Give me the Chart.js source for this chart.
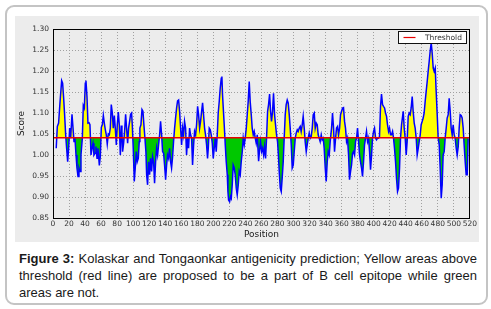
<!DOCTYPE html>
<html>
<head>
<meta charset="utf-8">
<script src="https://cdn.jsdelivr.net/npm/chart.js@4.4.1/dist/chart.umd.min.js"></script>
<style>
  html, body { margin: 0; padding: 0; background: #fff; }
  body { width: 491px; height: 309px; position: relative; overflow: hidden; }
  #frame {
    position: absolute; left: 5px; top: 5px; width: 479px; height: 296px;
    border: 2px solid #c4c4c4; border-radius: 9px;
  }
  #panel { position: absolute; left: 15px; top: 16px; width: 464px; height: 226px; background: #ececec; }
  #caption {
    position: absolute; left: 19px; top: 250px; width: 458px;
    font-family: 'Liberation Sans', Arial, sans-serif; font-size: 13px; line-height: 17px;
    color: #1a1a1a; text-align: justify;
  }
</style>
</head>
<body>
<div id="frame"></div>
<div id="panel"><canvas id="chart-kolaskar" width="464" height="226"></canvas></div>
<div id="caption"><b>Figure 3:</b> Kolaskar and Tongaonkar antigenicity prediction; Yellow areas above threshold (red line) are proposed to be a part of B cell epitope while green areas are not.</div>

<script>
/* ── Données ──────────────────────────────────────────────── */
const threshold = 1.041;
const xTicks = [0, 20, 40, 60, 80, 100, 120, 140, 160, 180, 200, 220, 240, 260,
                280, 300, 320, 340, 360, 380, 400, 420, 440, 460, 480, 500, 520];
const yTicks = [0.85, 0.90, 0.95, 1.00, 1.05, 1.10, 1.15, 1.20, 1.25, 1.30];

/* [position, score] */
const kolaskarScores = [
  [4,1.016],[5.4,1.068],[7,1.076],[8.7,1.124],[10.8,1.177],[12,1.171],[13.3,1.135],[14.5,1.096],
  [15.8,1.048],[17,1.016],[18.3,0.984],[19.5,1.016],[20.8,1.064],[22,1.040],[23.7,1.097],[25,1.064],
  [26.2,1.032],[27.4,1.040],[28.7,1.000],[29.9,0.969],[31.2,0.949],[32.4,0.969],[33.7,0.961],[34.9,1.000],
  [36.6,1.040],[37.8,1.118],[39.1,1.112],[40.3,1.171],[41.1,1.177],[42.4,1.139],[43.6,1.076],[44.9,1.077],
  [46.1,1.072],[47.4,1.000],[48.6,1.016],[49.9,1.028],[51.1,1.000],[52.4,1.004],[53.6,1.020],[54.9,0.992],
  [56.1,1.016],[57.8,0.975],[59,0.996],[60.3,1.066],[61.5,1.072],[62.8,1.094],[64,1.076],[65.3,1.060],
  [66.5,1.048],[67.7,1.026],[69,1.050],[70.2,1.048],[71.5,1.064],[72.7,1.120],[74,1.100],[75.2,1.064],
  [76.5,1.094],[77.7,1.064],[79,1.024],[80.2,1.072],[81.5,1.102],[82.7,1.072],[84,1.000],[85.2,1.070],
  [86,1.056],[86.8,1.008],[88.1,1.028],[89.3,1.056],[90.6,1.097],[91.8,1.064],[93.1,1.028],[94.3,1.064],
  [95.6,1.080],[96.8,1.097],[98,1.100],[98.9,1.072],[100.1,1.016],[101.4,0.937],[102.6,0.969],[103.9,1.008],
  [105.1,0.984],[106.4,0.992],[107.6,1.032],[108.4,1.064],[109.7,1.072],[111,1.108],[112.2,1.104],[113.4,1.072],
  [114.7,1.040],[115.9,1.008],[116.8,0.953],[118,0.929],[119.2,0.984],[120.5,0.953],[121.7,0.992],[123,0.961],
  [124.2,0.996],[125.5,0.984],[126.7,0.933],[128,0.984],[129.2,1.016],[130.5,1.000],[131.7,1.024],[133,1.048],
  [134.2,1.080],[135.5,1.048],[136.7,1.008],[138,1.004],[139.2,0.976],[140.5,0.941],[141.7,0.976],[142.9,1.000],
  [144.2,0.992],[145.4,1.016],[146.7,0.984],[147.9,0.969],[149.2,0.996],[150.4,1.032],[151.7,1.064],[152.9,1.088],
  [154.2,1.112],[155.4,1.129],[156.7,1.131],[157.9,1.104],[159.2,1.064],[160.4,1.024],[161.7,1.064],[162.9,1.048],
  [164.1,1.080],[165.4,1.064],[166.6,1.000],[167.9,1.040],[169.1,1.016],[170.4,1.064],[171.6,1.048],[172.9,1.040],
  [174.1,0.976],[175.4,1.024],[176.6,1.056],[177.9,1.048],[179.1,1.072],[180.4,1.116],[181.6,1.096],[182.9,1.064],
  [184.1,1.080],[185.4,1.104],[186.6,1.124],[187.8,1.096],[189.1,1.064],[190.3,1.048],[191.6,1.024],[192.8,0.992],
  [193.7,1.016],[194.9,1.064],[196.2,1.060],[197.4,1.048],[198.7,1.028],[199.9,0.992],[201.1,1.016],[202.4,1.040],
  [203.6,1.008],[204.9,1.048],[206.1,1.100],[207.4,1.128],[208.6,1.159],[209.9,1.183],[210.7,1.187],[211.5,1.143],
  [212.4,1.112],[213.6,1.072],[214.9,1.024],[216.1,0.984],[217.4,0.953],[218.2,0.913],[219,0.893],[220.3,0.889],
  [221.5,0.901],[222.4,0.897],[223.6,0.929],[224.8,0.976],[226.1,0.969],[227.3,0.953],[228.6,0.921],[229.8,0.905],
  [231.1,0.929],[232.3,0.961],[233.6,0.953],[234.8,0.984],[236.1,1.008],[237.3,1.040],[238.6,1.024],[239.8,1.040],
  [241.1,1.064],[242.3,1.096],[243.5,1.127],[244.8,1.175],[246,1.127],[247.3,1.096],[248.5,1.064],[249.8,1.048],
  [251,1.056],[252.3,1.040],[253.5,1.028],[254.8,1.048],[256.5,0.985],[257.5,1.008],[258.9,1.032],[260.2,1.008],
  [261.4,1.016],[262.7,1.000],[263.9,1.020],[265.2,0.992],[266.4,1.040],[267.7,1.104],[268.9,1.120],[270.2,1.145],
  [271.4,1.104],[272.6,1.080],[273.9,1.104],[275.1,1.147],[276.4,1.096],[277.6,1.072],[278.9,1.048],[280.1,1.032],
  [281.4,0.992],[282.2,0.961],[283.5,0.921],[284.7,0.913],[285.9,0.945],[287.2,0.984],[288.4,1.040],[289.7,1.096],
  [290.9,1.120],[292.2,1.131],[293.4,1.124],[294.7,1.096],[295.9,1.064],[297.2,1.024],[298.4,0.969],[299.7,0.976],
  [300.9,1.008],[302.2,1.040],[303.4,1.052],[304.7,1.060],[305.9,1.056],[307.2,1.064],[308.4,1.068],[309.6,1.056],
  [310.9,1.072],[312.1,1.092],[313.4,1.064],[314.6,1.032],[315.9,1.008],[317.1,1.024],[318.4,1.040],[319.6,1.052],
  [320.9,1.040],[322.1,1.044],[323.4,1.064],[324.6,1.096],[325.9,1.100],[327.1,1.064],[328.4,1.076],[329.6,1.072],
  [330.8,1.048],[332.1,1.040],[333.3,1.032],[334.6,1.048],[335.8,1.036],[337.1,1.040],[338.3,1.016],[339.6,0.969],
  [340.8,0.937],[342.1,0.984],[343.3,1.008],[344.6,1.000],[345.8,1.032],[347.5,1.064],[348.7,1.100],[350,1.064],
  [351.2,1.008],[352.5,1.040],[353.7,1.064],[355,1.068],[356.2,1.048],[357.5,1.064],[358.7,1.096],[360,1.104],
  [361.2,1.112],[362.4,1.113],[363.7,1.080],[364.9,1.064],[366.2,1.032],[367.4,1.040],[368.7,1.000],[369.9,0.941],
  [371.2,0.961],[372.4,0.976],[373.7,1.004],[374.9,1.008],[376.2,1.000],[377.4,1.032],[378.7,1.040],[379.9,1.064],
  [381.2,1.032],[382.4,1.000],[383.6,0.984],[384.9,0.969],[386.1,0.949],[387.4,0.984],[388.6,1.024],[389.9,1.040],
  [391.1,1.056],[392.4,1.032],[393.6,1.040],[394.9,1.008],[396.1,0.965],[397.4,1.000],[398.6,1.040],[399.9,1.056],
  [401.1,1.064],[402.4,1.040],[403.6,1.036],[404.9,1.040],[406.1,1.040],[407.3,1.044],[408.6,1.116],[409.8,1.145],
  [411.1,1.120],[412.3,1.116],[413.6,1.112],[414.8,1.100],[416.1,1.092],[417.3,1.072],[418.6,1.056],[419.8,1.064],
  [421.1,1.048],[422.3,1.048],[423.6,1.056],[424.8,1.040],[426,1.016],[427.3,0.984],[428.5,0.945],[429.8,0.913],
  [431,0.921],[432.3,0.969],[433.5,1.040],[434.8,1.072],[436.9,1.104],[438.1,1.064],[439.4,1.040],[440.6,1.000],
  [441.8,1.032],[443.1,1.092],[444.3,1.100],[445.6,1.096],[446.8,1.112],[448.1,1.139],[449.3,1.104],[450.6,1.076],
  [451.8,1.064],[453.1,1.040],[454.3,1.000],[455.6,1.016],[456.8,1.032],[458.1,1.048],[459.3,1.072],[460.6,1.080],
  [461.8,1.088],[463,1.100],[464.3,1.128],[465.5,1.151],[466.8,1.175],[468,1.199],[469.3,1.223],[470.5,1.247],
  [471.8,1.267],[473,1.243],[474.3,1.207],[475.5,1.199],[476.8,1.207],[478,1.151],[479.3,1.096],[480.5,1.040],
  [481.8,1.024],[483,0.969],[484.3,0.897],[485.5,0.929],[486.7,1.000],[488,1.008],[489.2,1.040],[490.5,1.064],
  [491.7,1.088],[493,1.096],[494.2,1.135],[495.5,1.104],[496.7,1.064],[498,1.048],[499.2,1.072],[500.5,1.048],
  [501.7,1.040],[503,1.016],[504.2,1.000],[505.5,1.020],[506.7,1.064],[507.9,1.096],[509.2,1.094],[510.4,1.088],
  [511.7,1.064],[512.9,1.024],[514.2,0.984],[515.4,0.953],[516.7,0.953],[517.9,1.040]
];

/* ── Styles communs ───────────────────────────────────────── */
const policeAxe  = { family: "'DejaVu Sans', sans-serif", size: 7.5 };
const policeTitre = { family: "'DejaVu Sans', sans-serif", size: 9 };
const grilleDotted = { color: '#a0a0a0', lineWidth: 1, drawTicks: false };
const bordAxe = { display: true, color: '#000', width: 1, dash: [1, 2] };

/* Cadre noir + légende "Threshold" dans le coin haut droit */
const cadreEtLegende = {
  id: 'cadreEtLegende',
  afterDraw(chart) {
    const { ctx, chartArea: a } = chart;
    ctx.save();
    ctx.strokeStyle = '#000';
    ctx.lineWidth = 1;
    ctx.strokeRect(Math.round(a.left) + 0.5, Math.round(a.top) + 0.5,
                   Math.round(a.right - a.left) - 1, Math.round(a.bottom - a.top));

    const bx = 383.5, by = 15.5, bw = 68, bh = 12;
    ctx.fillStyle = '#fff';
    ctx.fillRect(bx, by, bw, bh);
    ctx.strokeStyle = '#111';
    ctx.strokeRect(bx, by, bw, bh);
    const ds = chart.data.datasets[0];
    ctx.strokeStyle = ds.borderColor;
    ctx.lineWidth = 1.2;
    ctx.beginPath();
    ctx.moveTo(bx + 5, by + 6);
    ctx.lineTo(bx + 17, by + 6);
    ctx.stroke();
    ctx.fillStyle = '#333';
    ctx.font = "7.5px 'DejaVu Sans', sans-serif";
    ctx.textBaseline = 'middle';
    ctx.fillText(ds.label, bx + 26.5, by + 6.5);
    ctx.restore();
  },
};

new Chart(document.getElementById('chart-kolaskar'), {
  type: 'line',
  data: {
    datasets: [
      {
        label: 'Threshold',
        data: [{ x: xTicks[0], y: threshold }, { x: xTicks[xTicks.length - 1], y: threshold }],
        borderColor: '#e80000',
        borderWidth: 1.4,
        pointRadius: 0,
        fill: false,
        order: 0,
      },
      {
        label: 'Score',
        data: kolaskarScores.map(([p, s]) => ({ x: p, y: s })),
        borderColor: '#0000ff',
        borderWidth: 1.5,
        pointRadius: 0,
        tension: 0,
        order: 1,
        fill: { target: { value: threshold }, above: '#ffff00', below: '#00c800' },
      },
    ],
  },
  options: {
    responsive: false,
    animation: false,
    layout: { padding: { top: 13, right: 9, left: 0, bottom: 0 } },
    plugins: { legend: { display: false }, tooltip: { enabled: false } },
    scales: {
      x: {
        type: 'linear',
        min: 0,
        max: 520,
        afterBuildTicks: s => { s.ticks = xTicks.map(v => ({ value: v })); },
        afterFit: s => { s.height = 24; },
        grid: grilleDotted,
        border: bordAxe,
        ticks: { autoSkip: false, maxRotation: 0, padding: 2, font: policeAxe, color: '#333' },
        title: { display: true, text: 'Position', font: policeTitre, color: '#222', padding: { top: 0, bottom: 2 } },
      },
      y: {
        min: 0.85,
        max: 1.30,
        afterBuildTicks: s => { s.ticks = yTicks.map(v => ({ value: v })); },
        afterFit: s => { s.width = 38; },
        grid: grilleDotted,
        border: bordAxe,
        ticks: { padding: 4, font: policeAxe, color: '#333', callback: v => v.toFixed(2) },
        title: { display: true, text: 'Score', font: policeTitre, color: '#222', padding: { top: 1, bottom: 0 } },
      },
    },
  },
  plugins: [cadreEtLegende],
});
</script>
</body>
</html>
